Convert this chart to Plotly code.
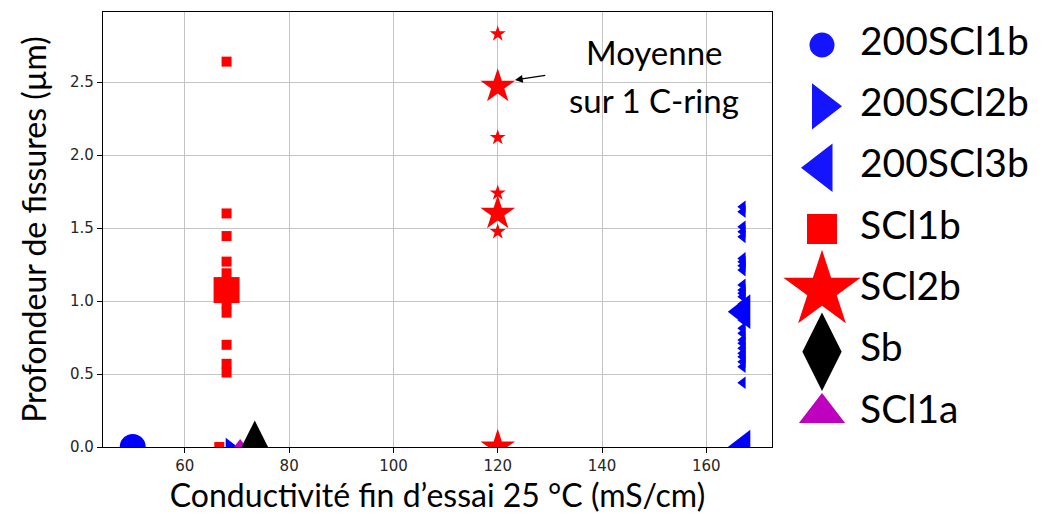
import plotly.graph_objects as go

# ---------------- data ----------------
# conductivity at end of test (mS/cm) and crack depths (µm)
s200SCl1b_x = [50.0]
s200SCl1b_y = [0.0]

s200SCl2b_x = [68.6]
s200SCl2b_y = [0.0]

cond_200SCl3b = 167.0
s200SCl3b_y = [1.646, 1.612, 1.509, 1.475, 1.44, 1.292, 1.269, 1.242, 1.212,
               1.11, 1.075, 1.053, 1.03, 0.98, 0.95, 0.90, 0.87, 0.813, 0.779,
               0.733, 0.71, 0.676, 0.642, 0.618, 0.584, 0.55, 0.44]
s200SCl3b_mean_x = [167.0, 167.0]
s200SCl3b_mean_y = [0.927, 0.0]

SCl1b_x = [68.0, 68.0, 68.0, 68.0, 68.0, 68.0, 68.0, 68.0, 68.0, 68.0, 68.0, 68.0, 66.6]
SCl1b_y = [2.64, 1.60, 1.445, 1.27, 1.19, 1.12, 1.05, 0.98, 0.92, 0.70, 0.57, 0.51, 0.0]
SCl1b_mean_x = [68.0]
SCl1b_mean_y = [1.075]

SCl2b_x = [120.0, 120.0, 120.0, 120.0]
SCl2b_y = [2.83, 2.12, 1.74, 1.475]
SCl2b_mean_x = [120.0, 120.0, 120.0]
SCl2b_mean_y = [2.47, 1.60, 0.0]

Sb_x = [73.4]
Sb_y = [0.0]

SCl1a_x = [70.6]
SCl1a_y = [0.0]

legend_names = ["200SCl1b", "200SCl2b", "200SCl3b", "SCl1b", "SCl2b", "Sb", "SCl1a"]
legend_symbols = ["circle", "triangle-right", "triangle-left", "square", "star", "diamond-tall", "triangle-up"]
legend_colors = ["#1414ff", "#1414ff", "#1414ff", "#ff0000", "#ff0000", "#000000", "#bf00bf"]
legend_sizes = [25, 40, 42, 30, 58, 56, 40]

x_ticks = [60, 80, 100, 120, 140, 160]
y_ticks = [0.0, 0.5, 1.0, 1.5, 2.0, 2.5]

BLUE = "#0000ff"
RED = "#ff0000"
MAG = "#bf00bf"

TXT_FONT = "Lato"

fig = go.Figure()

def add(x, y, symbol, color, size):
    fig.add_trace(go.Scatter(x=x, y=y, mode="markers",
                             marker=dict(symbol=symbol, color=color, size=size, opacity=1,
                                         line=dict(width=0)),
                             showlegend=False, xaxis="x", yaxis="y"))

add(SCl1b_x, SCl1b_y, "square", RED, 10)
add(SCl1b_mean_x, SCl1b_mean_y, "square", RED, 26)
add(s200SCl1b_x, s200SCl1b_y, "circle", BLUE, 26)
add(s200SCl2b_x, s200SCl2b_y, "triangle-right", BLUE, 16)
add([cond_200SCl3b] * len(s200SCl3b_y), s200SCl3b_y, "triangle-left", BLUE, 11)
add(s200SCl3b_mean_x, s200SCl3b_mean_y, "triangle-left", BLUE, 30)
add(SCl2b_x, SCl2b_y, "star", RED, 12)
add(SCl2b_mean_x, SCl2b_mean_y, "star", RED, 26)
add(SCl1a_x, SCl1a_y, "triangle-up", MAG, 16)
add(Sb_x, Sb_y, "diamond-tall", "#000000", 38)

# manual legend on its own axes
fig.add_trace(go.Scatter(x=[0] * len(legend_names), y=legend_names, mode="markers",
                         marker=dict(symbol=legend_symbols, color=legend_colors, size=legend_sizes,
                                     opacity=1, line=dict(width=0)),
                         cliponaxis=False, showlegend=False, xaxis="x2", yaxis="y2"))
fig.add_trace(go.Scatter(x=[1] * len(legend_names), y=legend_names, mode="text",
                         text=legend_names, textposition="middle right",
                         textfont=dict(family=TXT_FONT, size=39, color="black"),
                         cliponaxis=False, showlegend=False, xaxis="x2", yaxis="y2"))

# page body has an 8 px margin: the figure starts at (8, 8) in the window
OFF = 8
W, H = 1043 - OFF, 514 - OFF
PL, PR, PT, PB = 103, 772, 12, 447          # plot area in window pixels
ML, MT = PL - OFF, PT - OFF
MB = 514 - PB
MR = 0
PW = W - ML - MR
PH = H - MT - MB

leg_x0 = 772                                # legend region left edge (window px)
leg_dom0 = (leg_x0 - PL) / PW
leg_w = 1043 - leg_x0
marker_px, text_px = 822, 860
scale = text_px - marker_px
x2_lo = -(marker_px - leg_x0) / scale
x2_hi = x2_lo + leg_w / scale

axis_common = dict(showgrid=True, gridcolor="#c4c4c4", gridwidth=1,
                   showline=True, linecolor="black", linewidth=1.3, mirror=True,
                   ticks="outside", ticklen=5, tickwidth=1.3, tickcolor="black",
                   tickfont=dict(family="DejaVu Sans", size=15, color="#262626"),
                   zeroline=False)

fig.update_layout(
    width=W, height=H,
    margin=dict(l=ML, r=MR, t=MT, b=MB, pad=0),
    paper_bgcolor="white", plot_bgcolor="white",
    xaxis=dict(domain=[0, (PR - PL) / PW], range=[44.3, 172.6], tickvals=x_ticks,
               title=dict(text="Conductivité fin d’essai 25 °C (mS/cm)",
                          font=dict(family=TXT_FONT, size=32, color="black"), standoff=7),
               **axis_common),
    yaxis=dict(range=[0, 2.98], tickvals=y_ticks, tickformat=".1f",
               title=dict(text="Profondeur de fissures (µm)",
                          font=dict(family=TXT_FONT, size=32, color="black"), standoff=13),
               **axis_common),
    xaxis2=dict(domain=[leg_dom0, 1.0], range=[x2_lo, x2_hi], visible=False, fixedrange=True),
    yaxis2=dict(domain=[0, 1], type="category", categoryorder="array", categoryarray=legend_names,
                range=[6.554, -0.538], visible=False, fixedrange=True, anchor="x2"),
    showlegend=False,
)

fig.add_annotation(x=150.0, y=2.705, xref="x", yref="y", text="Moyenne", showarrow=False,
                   font=dict(family=TXT_FONT, size=33, color="black"))
fig.add_annotation(x=150.0, y=2.377, xref="x", yref="y", text="sur 1 C-ring", showarrow=False,
                   font=dict(family=TXT_FONT, size=33, color="black"))
fig.add_annotation(x=123.3, y=2.514, ax=129.4, ay=2.548, xref="x", yref="y", axref="x", ayref="y",
                   text="", showarrow=True, arrowhead=2, arrowsize=1.3, arrowwidth=1.2,
                   arrowcolor="black")

fig.write_html("out.html")
